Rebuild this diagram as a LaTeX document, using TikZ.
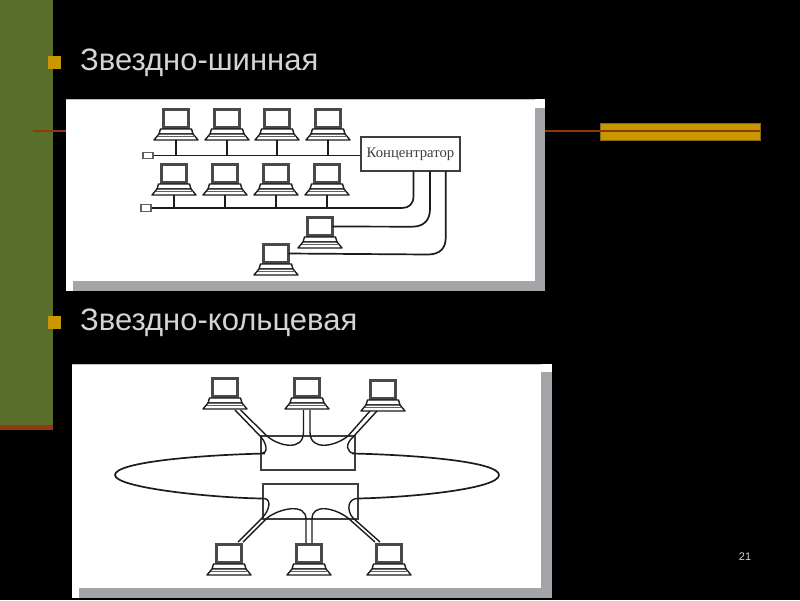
\documentclass[tikz,border=0pt]{standalone}
\usepackage{fontspec}
\setmainfont{Liberation Sans}
\newfontfamily\serifcyr{Liberation Serif}
\definecolor{bandgreen}{HTML}{5A6E2C}
\definecolor{bandorange}{HTML}{8F3A08}
\definecolor{goldbar}{HTML}{C99700}
\definecolor{goldedge}{HTML}{8A6A10}
\definecolor{shadowgray}{HTML}{A3A5A8}
\definecolor{ink}{HTML}{1C1C1C}
\definecolor{titlegray}{HTML}{D4D4D4}
\tikzset{
  x=1pt,y=-1pt,
  title/.style={font=\fontsize{31}{34}\selectfont,text=titlegray,anchor=base west,inner sep=0pt},
  wire/.style={draw=ink,line width=1.7pt,line join=round},
  thin wire/.style={draw=ink,line width=1.4pt,line join=round},
  screen/.style={draw=ink!80,fill=white,line width=3.4pt,minimum width=24.5pt,minimum height=18pt,inner sep=0pt,outer sep=0pt},
  hubbox/.style={draw=ink!85,fill=white,line width=1.4pt,inner sep=0pt,minimum width=99pt,minimum height=34pt},
  ringhub/.style={draw=ink!85,line width=1.3pt,inner sep=0pt},
  term/.style={draw=ink!70,fill=white,line width=1.3pt,inner sep=0pt,minimum width=10pt,minimum height=6.5pt},
  pc/.pic={
    \node[screen] (-mon) at (0,10.5) {};
    \draw[thin wire,fill=white] (-15.5,21) -- (15.5,21) -- (17,26) -- (-17,26) -- cycle;
    \draw[thin wire,fill=white] (-17,26) -- (17,26) -- (22,32) -- (-22,32) -- cycle;
    \draw[draw=ink!70,line width=1pt] (-18.5,28.5) -- (18.5,28.5);
    \coordinate (-base) at (0,32);
  }
}
\begin{document}
\begin{tikzpicture}
\useasboundingbox (0,0) rectangle (800,600);
\fill[black] (0,0) rectangle (800,600);
% slide decoration
\fill[bandgreen] (0,0) rectangle (53,425);
\fill[bandorange] (0,425) rectangle (53,429.5);
\fill[goldbar,draw=goldedge,line width=.6pt] (600,123.5) rectangle (760,140);
\draw[bandorange,line width=1.3pt] (33,131) -- (760,131);
\fill[goldbar] (47.7,55.7) rectangle (61,69);
\fill[goldbar] (47.7,316) rectangle (61,329);
\node[title] (t1) at (80,70.5) {Звездно-шинная};
\node[title] (t2) at (80,330.5) {Звездно-кольцевая};
\node[font=\fontsize{11}{13}\selectfont,text=titlegray] (pn) at (745,556.5) {21};
% panel 1
\fill[white] (66,99) rectangle (545,291);
\fill[shadowgray] (73,281) rectangle (545,291);
\fill[shadowgray] (535,108) rectangle (545,291);
\draw[shadowgray!70,line width=.7pt] (66,99) -- (535,99);
\node[hubbox] (hub) at (410.5,154) {\serifcyr\fontsize{14.7}{16}\selectfont\textcolor{ink!85}{Концентратор}};
\node[term] (ta) at (148,155.5) {};
\node[term] (tb) at (146,208) {};
\draw[wire] (ta.east) -- (hub.west |- ta.east) coordinate (bushubA);
\draw[wire] (tb.east) -- (402,208) coordinate (busB);
\foreach \n/\cx in {a1/176,a2/227,a3/277,a4/328}{
  \pic (\n) at (\cx,108) {pc};
  \draw[wire] (\n-base) -- (\n-base |- ta.east);
}
\foreach \n/\cx in {b1/174,b2/225,b3/276,b4/327}{
  \pic (\n) at (\cx,163) {pc};
  \draw[wire] (\n-base) -- (\n-base |- tb.east);
}
\pic (c1) at (320,216) {pc};
\pic (c2) at (276,243) {pc};
\coordinate (p1) at (413.5,171);
\coordinate (p2) at (430,171);
\coordinate (p3) at (445.7,171);
\draw[wire] (p1) -- (413.5,196) .. controls (413.5,204) and (409,208) .. (busB);
\draw[wire] (c1-mon.east) -- (412,226.7) .. controls (424,226.7) and (430,220) .. (430,209) -- (p2);
\draw[wire] (c2-mon.east) -- (428,254.5) .. controls (440,254.5) and (445.7,248) .. (445.7,238) -- (p3);
% panel 2
\fill[white] (72,364) rectangle (552,598);
\fill[shadowgray] (79,588) rectangle (552,598);
\fill[shadowgray] (541,372) rectangle (552,598);
\draw[shadowgray!70,line width=.7pt] (72,364) -- (541,364);
\node[ringhub,minimum width=94pt,minimum height=34pt] (up) at (308,453) {};
\node[ringhub,minimum width=95pt,minimum height=35pt] (lo) at (310.5,501.5) {};
\pic (u1) at (225,377) {pc};
\pic (u2) at (307,377) {pc};
\pic (u3) at (383,379) {pc};
\pic (d1) at (229,543) {pc};
\pic (d2) at (309,543) {pc};
\pic (d3) at (389,543) {pc};
% ring
\coordinate (rl) at (115,475);
\coordinate (rr) at (499,475);
\draw[wire] (265,453.5) .. controls (200,455) and (115,462) .. (rl)
  .. controls (115,488) and (215,498) .. (263,498.5);
\draw[wire] (352,453.5) .. controls (420,455) and (499,462) .. (rr)
  .. controls (499,488) and (420,497) .. (358,498.5);
% upper cables
\draw[thin wire] (235,410) -- (261,437) .. controls (267,444) and (268,453) .. (262,453.5);
\draw[thin wire] (240.5,410) -- (267,436) .. controls (278,446) and (303.5,452) .. (303.5,432) -- (303.5,410);
\draw[thin wire] (310,410) -- (310,432) .. controls (310,452) and (336,446) .. (348,436) -- (370,411);
\draw[thin wire] (377,411) -- (353,437) .. controls (345,444) and (346,453) .. (355,453.5);
% lower cables
\draw[thin wire] (238,542) -- (262,518) .. controls (270,510) and (272,498) .. (263,498.5);
\draw[thin wire] (243,542) -- (267,518) .. controls (280,508) and (306,503) .. (306,519) -- (306,543);
\draw[thin wire] (312,543) -- (312,519) .. controls (312,503) and (335,508) .. (348,518) -- (375,542);
\draw[thin wire] (380,542) -- (353,518) .. controls (346,510) and (348,498) .. (358,498.5);
\end{tikzpicture}
\end{document}
